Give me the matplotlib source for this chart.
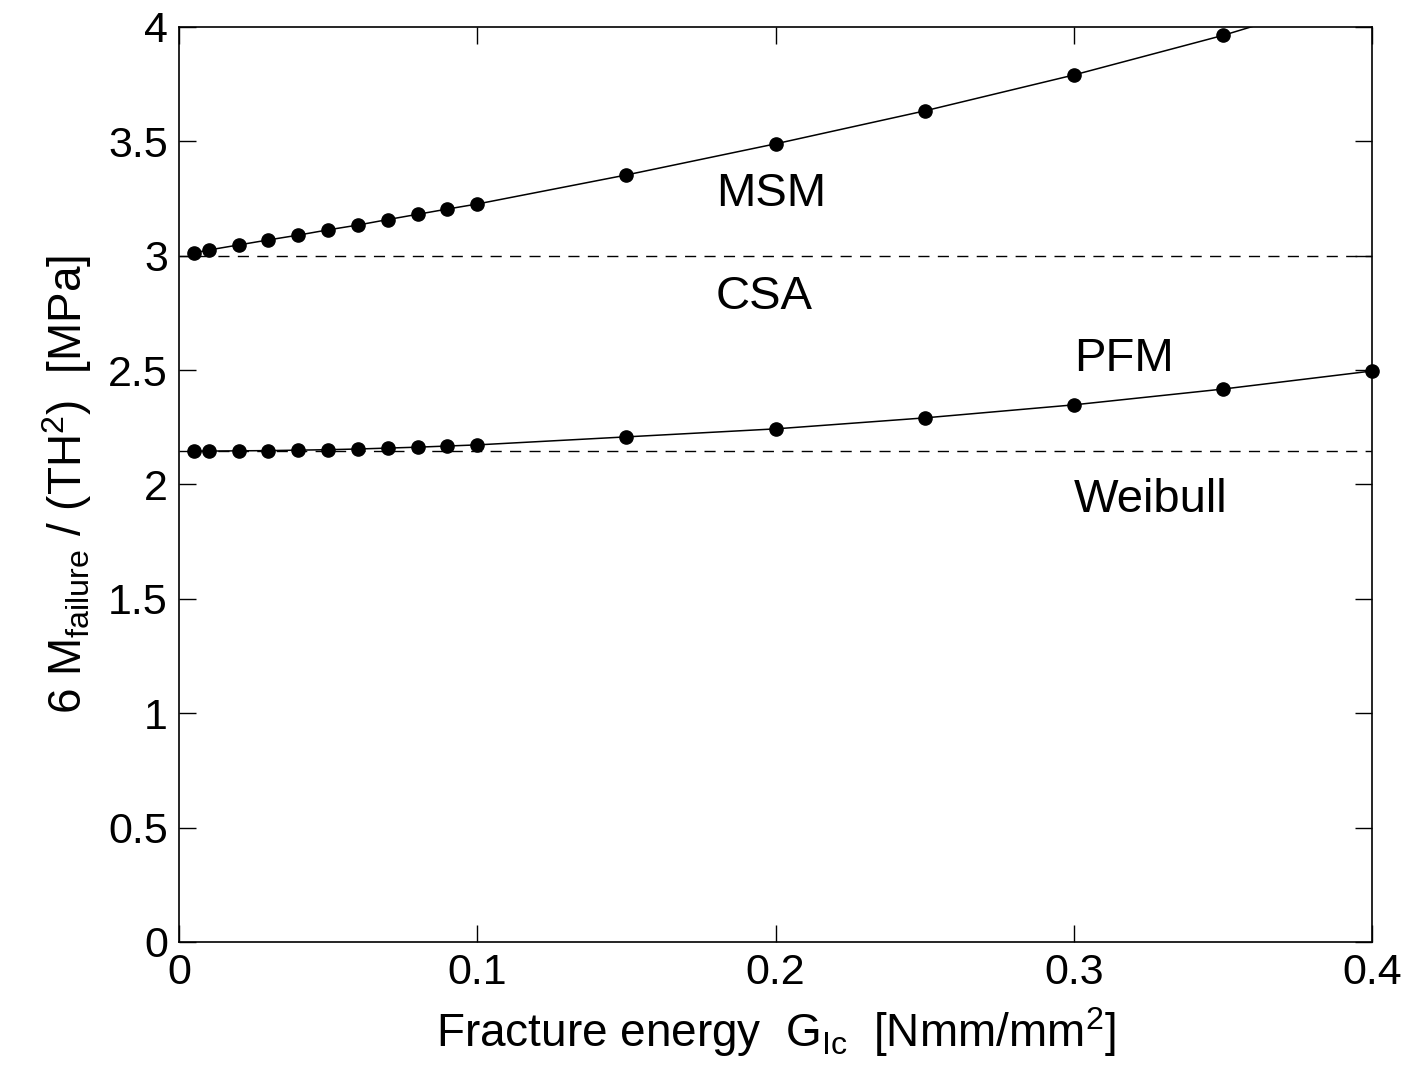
import matplotlib
matplotlib.use('Agg')
import matplotlib.pyplot as plt
from matplotlib import font_manager

names = {f.name for f in font_manager.fontManager.ttflist}
fam = 'Liberation Sans Narrow' if 'Liberation Sans Narrow' in names else 'Liberation Sans'
plt.rcParams['font.family'] = [fam, 'DejaVu Sans']
plt.rcParams['mathtext.fontset'] = 'custom'
plt.rcParams['mathtext.rm'] = fam
plt.rcParams['mathtext.it'] = fam

# data
g_ic = [0.005, 0.01, 0.02, 0.03, 0.04, 0.05, 0.06, 0.07, 0.08, 0.09, 0.1,
        0.15, 0.2, 0.25, 0.3, 0.35, 0.4]
msm = [3.012, 3.025, 3.047, 3.069, 3.090, 3.113, 3.134, 3.158, 3.181, 3.204, 3.226,
       3.353, 3.489, 3.633, 3.790, 3.963, 4.160]
pfm = [2.146, 2.146, 2.147, 2.148, 2.150, 2.152, 2.155, 2.159, 2.163, 2.168, 2.173,
       2.208, 2.243, 2.291, 2.348, 2.417, 2.496]
csa = 3.0
weibull = 2.146

fig = plt.figure(figsize=(14.23, 10.91), dpi=100)
ax = fig.add_axes([0.1258, 0.1366, 0.8384, 0.8387])

ax.plot(g_ic, msm, 'k-', lw=1.1, marker='o', ms=9.5, clip_on=True)
ax.plot(g_ic, pfm, 'k-', lw=1.1, marker='o', ms=9.5, clip_on=False)
ax.axhline(csa, color='k', ls=(0, (8, 6)), lw=1.0)
ax.axhline(weibull, color='k', ls=(0, (8, 6)), lw=1.0)

ax.text(0.18, 3.27, 'MSM', fontsize=34, va='center')
ax.text(0.18, 2.82, 'CSA', fontsize=34, va='center')
ax.text(0.3, 2.55, 'PFM', fontsize=34, va='center')
ax.text(0.3, 1.93, 'Weibull', fontsize=34, va='center')

ax.set_xlim(0, 0.4)
ax.set_ylim(0, 4)
ax.set_xticks([0, 0.1, 0.2, 0.3, 0.4])
ax.set_xticklabels(['0', '0.1', '0.2', '0.3', '0.4'])
ax.set_yticks([0, 0.5, 1, 1.5, 2, 2.5, 3, 3.5, 4])
ax.set_yticklabels(['0', '0.5', '1', '1.5', '2', '2.5', '3', '3.5', '4'])
ax.tick_params(direction='in', length=12, width=1, labelsize=31,
               top=True, right=True, pad=8)
for s in ax.spines.values():
    s.set_linewidth(1.2)

ax.set_xlabel(r'Fracture energy  G$_{\mathrm{Ic}}$  [Nmm/mm$^{2}$]', fontsize=33, labelpad=9)
ax.set_ylabel(r'6 M$_{\mathrm{failure}}$ / (TH$^{2}$)  [MPa]', fontsize=33, labelpad=10)

fig.savefig('out.png', dpi=100)
